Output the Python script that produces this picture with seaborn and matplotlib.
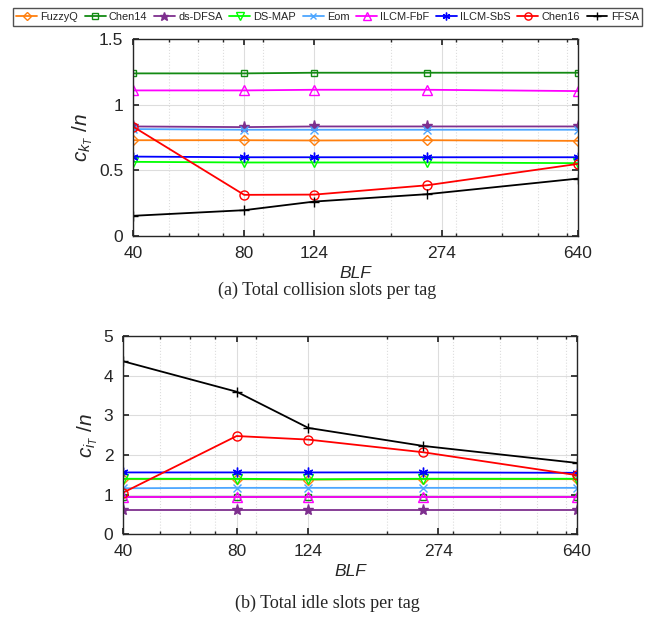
"""Collision and idle slots per tag vs BLF."""
import matplotlib
matplotlib.use('Agg')
import matplotlib.pyplot as plt
import matplotlib.ticker as mticker
import numpy as np
import pandas as pd
import seaborn as sns

sns.set_theme(style='ticks')
plt.rcParams['font.family'] = ['Liberation Sans', 'DejaVu Sans']
plt.rcParams['mathtext.fontset'] = 'custom'
plt.rcParams['mathtext.it'] = 'Liberation Sans:italic'
plt.rcParams['mathtext.rm'] = 'Liberation Sans'

FIG_SIZE = (6.55, 6.24)

BLF = [40, 80, 124, 250, 640]
BLF_TICKS = [40, 80, 124, 274, 640]

METHODS = ['FuzzyQ', 'Chen14', 'ds-DFSA', 'DS-MAP', 'Eom',
           'ILCM-FbF', 'ILCM-SbS', 'Chen16', 'FFSA']
COLORS = ['#FF7F0E', '#138A13', '#7E2F8E', '#00FF00', '#4DA6FF',
          '#FF00FF', '#0000FF', '#FF0000', '#000000']
MARKERS = ['D', 's', '*', 'v', 'x', '^', (6, 2, 0), 'o', '+']
MSIZES = [5.5, 5, 8, 6.5, 6, 6.5, 7, 6.5, 7]

# (a) total collision slots per tag
collision = {
    'FuzzyQ':   [0.730, 0.730, 0.728, 0.730, 0.725],
    'Chen14':   [1.240, 1.240, 1.245, 1.245, 1.245],
    'ds-DFSA':  [0.835, 0.830, 0.835, 0.835, 0.835],
    'DS-MAP':   [0.565, 0.560, 0.560, 0.560, 0.555],
    'Eom':      [0.815, 0.810, 0.810, 0.810, 0.810],
    'ILCM-FbF': [1.110, 1.110, 1.115, 1.115, 1.105],
    'ILCM-SbS': [0.605, 0.600, 0.600, 0.600, 0.600],
    'Chen16':   [0.834, 0.313, 0.315, 0.386, 0.549],
    'FFSA':     [0.153, 0.196, 0.262, 0.318, 0.437],
}

# (b) total idle slots per tag
idle = {
    'FuzzyQ':   [1.39, 1.39, 1.38, 1.39, 1.39],
    'Chen14':   [0.95, 0.95, 0.95, 0.95, 0.95],
    'ds-DFSA':  [0.60, 0.60, 0.60, 0.60, 0.60],
    'DS-MAP':   [1.40, 1.40, 1.385, 1.40, 1.40],
    'Eom':      [1.16, 1.17, 1.17, 1.17, 1.17],
    'ILCM-FbF': [0.95, 0.95, 0.95, 0.95, 0.95],
    'ILCM-SbS': [1.56, 1.56, 1.56, 1.56, 1.55],
    'Chen16':   [1.05, 2.48, 2.39, 2.07, 1.49],
    'FFSA':     [4.37, 3.60, 2.685, 2.23, 1.80],
}


def draw_panel(ax, data, ylim, yticks, yticklabels, ylabel):
    """Draw one panel of lines with markers on a log BLF axis."""
    for name, color, marker, ms in zip(METHODS, COLORS, MARKERS, MSIZES):
        df = pd.DataFrame({'BLF': BLF, 'value': data[name]})
        filled = marker == '*'
        sns.lineplot(data=df, x='BLF', y='value', ax=ax, color=color,
                     marker=marker, markersize=ms, linewidth=1.3,
                     markeredgecolor=color, markeredgewidth=1.0,
                     markerfacecolor=color if filled else 'none',
                     label=name, legend=False)
    ax.set_xscale('log')
    ax.set_xlim(40, 640)
    ax.set_ylim(*ylim)
    ax.set_xticks(BLF_TICKS)
    ax.xaxis.set_major_formatter(mticker.FixedFormatter([str(t) for t in BLF_TICKS]))
    ax.xaxis.set_minor_formatter(mticker.NullFormatter())
    ax.set_yticks(yticks)
    ax.set_yticklabels(yticklabels)
    ax.grid(True, which='major', color='#DDDDDD', linewidth=0.8)
    ax.grid(True, which='minor', axis='x', color='#DDDDDD',
            linestyle=':', linewidth=0.8)
    ax.set_axisbelow(True)
    ax.tick_params(direction='in', which='both', top=True, right=True,
                   labelsize=12.5, colors='#262626', length=4)
    ax.tick_params(axis='x', which='major', pad=7)
    ax.tick_params(axis='y', which='major', pad=7)
    ax.tick_params(which='minor', length=2)
    for sp in ax.spines.values():
        sp.set_color('#262626')
        sp.set_linewidth(1.0)
    ax.set_xlabel('BLF', fontsize=12.5, style='italic', color='#262626',
                  labelpad=4)
    ax.set_ylabel(ylabel, fontsize=15, color='#262626', labelpad=3)


fig = plt.figure(figsize=FIG_SIZE, dpi=100)
ax1 = fig.add_axes([0.203, 0.622, 0.679, 0.315])
ax2 = fig.add_axes([0.188, 0.144, 0.693, 0.317])

draw_panel(ax1, collision, (0, 1.5), [0, 0.5, 1, 1.5],
           ['0', '0.5', '1', '1.5'], r'$c_{k_T}\ /n$')
draw_panel(ax2, idle, (0, 5), [0, 1, 2, 3, 4, 5],
           ['0', '1', '2', '3', '4', '5'], r'$c_{i_T}\ /n$')

handles, labels = ax1.get_legend_handles_labels()
leg = fig.legend(handles, labels, loc='upper center', ncol=9,
                 bbox_to_anchor=(0.5, 0.99), fontsize=7.9, frameon=True,
                 fancybox=False, handlelength=1.9, handletextpad=0.3,
                 columnspacing=0.6, borderpad=0.35, borderaxespad=0.2,
                 markerscale=0.8)
leg.get_frame().set_edgecolor('#262626')
leg.get_frame().set_linewidth(1.0)

fig.text(0.5, 0.535, '(a) Total collision slots per tag', ha='center',
         va='center', fontsize=13, family='Liberation Serif')
fig.text(0.5, 0.033, '(b) Total idle slots per tag', ha='center',
         va='center', fontsize=13, family='Liberation Serif')

fig.savefig('out.png', dpi=100)
